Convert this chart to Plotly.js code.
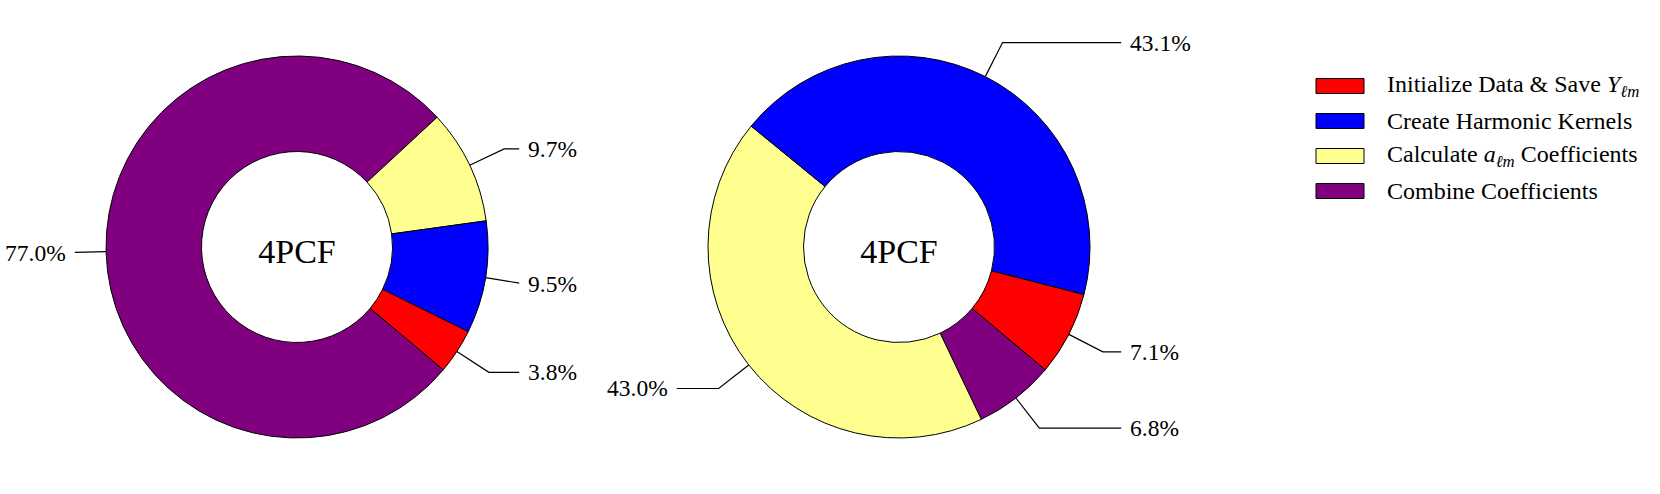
<!DOCTYPE html>
<html>
<head>
<meta charset="utf-8">
<script src="https://cdn.plot.ly/plotly-3.0.1.min.js"></script>
<style>html,body{margin:0;padding:0;background:#fff;}#chart{width:1660px;height:494px;}</style>
</head>
<body>
<div id="chart"></div>
<script>
// ---- data ----
const categories = [
  "Initialize Data &amp; Save <i>Y</i><sub><i>ℓm</i></sub>",
  "Create Harmonic Kernels",
  "Calculate <i>a</i><sub><i>ℓm</i></sub> Coefficients",
  "Combine Coefficients"
];
const colors = ["#ff0000", "#0000ff", "#ffff8f", "#800080"];
const pieTitles = ["4PCF", "4PCF"];
const leftValues = [3.8, 9.5, 9.7, 77.0];
const rightValues = [7.1, 43.1, 43.0, 6.8];

// ---- layout constants (pixels) ----
const W = 1660, H = 494;
const FONT = '"Liberation Serif", "Times New Roman", Times, serif';
const pies = [
  {values: leftValues, cx: 297, cy: 247, r: 191, title: pieTitles[0]},
  {values: rightValues, cx: 899, cy: 247, r: 191, title: pieTitles[1]}
];
const START = -40; // math degrees, slices run counterclockwise from here
const px = x => x / W;
const py = y => 1 - y / H;

const traces = [];
const shapes = [];
const annotations = [];

pies.forEach(p => {
  const total = p.values.reduce((a, b) => a + b, 0);
  // plotly: clockwise from rotation; feed reversed order so that visual ccw order matches
  traces.push({
    type: "pie",
    values: p.values.slice().reverse(),
    labels: categories.slice().reverse(),
    marker: {colors: colors.slice().reverse(), line: {color: "#000", width: 1}},
    hole: 0.5,
    sort: false,
    direction: "clockwise",
    rotation: 90 - START,
    textinfo: "none",
    hoverinfo: "label+percent",
    showlegend: false,
    title: {text: p.title, position: "middle center", font: {family: FONT, size: 34, color: "#000"}},
    domain: {x: [px(p.cx - p.r), px(p.cx + p.r)], y: [py(p.cy + p.r), py(p.cy - p.r)]}
  });
  let acc = 0;
  p.values.forEach(v => {
    const a0 = START + 360 * acc / total;
    acc += v;
    const a1 = START + 360 * acc / total;
    const th = (a0 + a1) / 2 * Math.PI / 180;
    const c = Math.cos(th), s = Math.sin(th);
    const sign = c >= 0 ? 1 : -1;
    const ex = p.cx + p.r * c, ey = p.cy - p.r * s;
    const kx = p.cx + 1.2 * p.r * c, ky = p.cy - 1.2 * p.r * s;
    const tx = p.cx + sign * 1.2 * p.r;
    const lx = tx - sign * 7;
    let path;
    if (sign * (kx - lx) > 0) {
      const t = (lx - ex) / (kx - ex);
      const yy = ey + t * (ky - ey);
      path = `M${px(ex)},${py(ey)} L${px(lx)},${py(yy)}`;
    } else {
      path = `M${px(ex)},${py(ey)} L${px(kx)},${py(ky)} L${px(lx)},${py(ky)}`;
    }
    shapes.push({type: "path", xref: "paper", yref: "paper", path: path,
      line: {color: "#000", width: 1.2}});
    annotations.push({xref: "paper", yref: "paper", x: px(tx), y: py(ky),
      xanchor: sign > 0 ? "left" : "right", yanchor: "middle", showarrow: false,
      text: v.toFixed(1) + "%", font: {family: FONT, size: 23.5, color: "#000"}});
  });
});

// ---- custom legend ----
const legX0 = 1316, legX1 = 1364, legTextX = 1385, legY0 = 86, legDy = 35, legH = 15;
categories.forEach((cat, i) => {
  const yc = legY0 + i * legDy;
  shapes.push({type: "rect", xref: "paper", yref: "paper",
    x0: px(legX0), x1: px(legX1), y0: py(yc + legH / 2), y1: py(yc - legH / 2),
    fillcolor: colors[i], line: {color: "#000", width: 1}});
  annotations.push({xref: "paper", yref: "paper", x: px(legTextX), y: py(yc),
    xanchor: "left", yanchor: "middle", showarrow: false, text: cat,
    font: {family: FONT, size: 24, color: "#000"}});
});

const layout = {
  width: W, height: H,
  margin: {l: 0, r: 0, t: 0, b: 0, pad: 0},
  paper_bgcolor: "#fff", plot_bgcolor: "#fff",
  showlegend: false,
  shapes: shapes,
  annotations: annotations,
  font: {family: FONT, color: "#000"}
};
Plotly.newPlot("chart", traces, layout, {displayModeBar: false, staticPlot: true});
</script>
</body>
</html>
